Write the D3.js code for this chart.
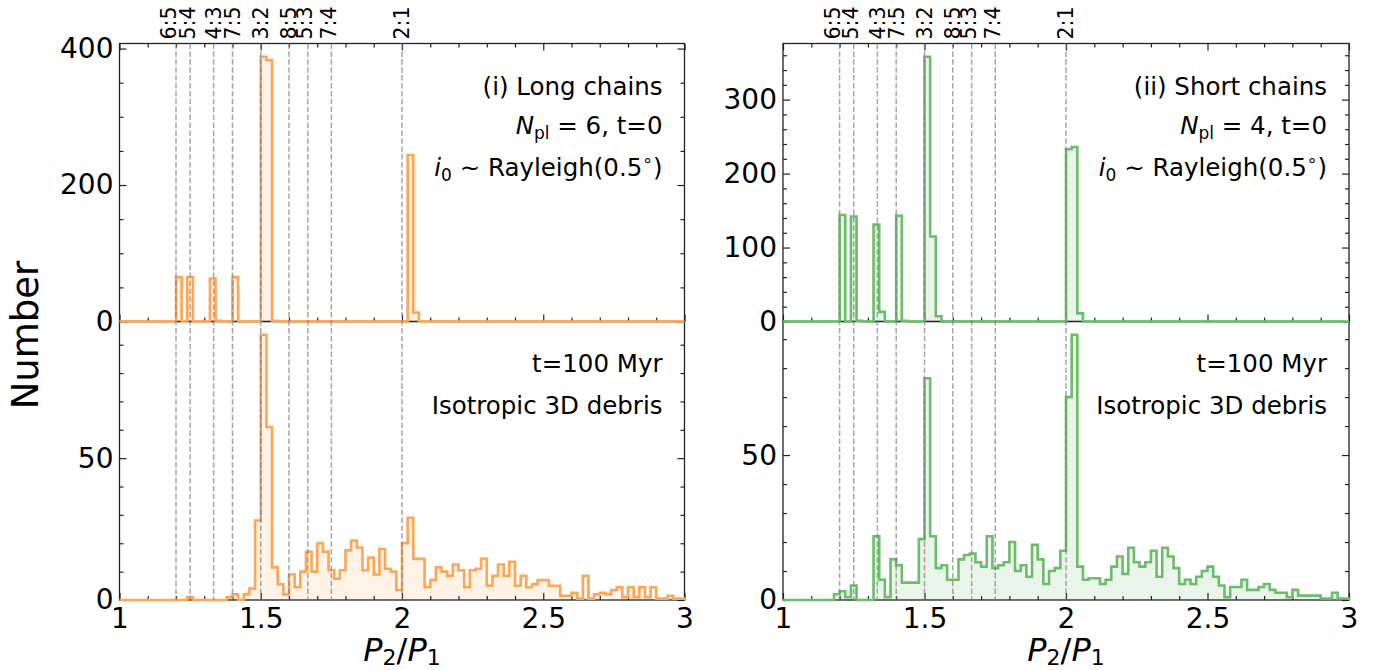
<!DOCTYPE html>
<html>
<head>
<meta charset="utf-8">
<script src="https://cdn.jsdelivr.net/npm/d3@7"></script>
<style>
  body { margin: 0; background: #fff; }
  svg text { font-family: "DejaVu Sans", sans-serif; fill: #000; }
</style>
</head>
<body>
<div id="chart"></div>
<script>
// period ratio histograms, bins of 0.02 between P2/P1 = 1 and 3

// bin edges
const binLo = 1, binHi = 3, nBins = 100;
const edges = d3.range(nBins + 1).map(i => binLo + i * (binHi - binLo) / nBins);

// (i) long chains, t = 0
const longT0 = [
  0, 0, 0, 0, 0, 0, 0, 0, 0, 0,
  65, 0, 65, 0, 0, 0, 63, 1, 0, 0,
  65, 0, 0, 0, 0, 388, 383, 1, 0, 0,
  0, 0, 0, 0, 0, 0, 0, 0, 0, 0,
  0, 0, 0, 0, 0, 0, 0, 0, 0, 0,
  0, 244, 13, 0, 0, 0, 0, 0, 0, 0,
  0, 0, 0, 0, 0, 0, 0, 0, 0, 0,
  0, 0, 0, 0, 0, 0, 0, 0, 0, 0,
  0, 0, 0, 0, 0, 0, 0, 0, 0, 0,
  0, 0, 0, 0, 0, 0, 0, 0, 0, 0
];

// (i) long chains, t = 100 Myr
const longT100 = [
  0, 0, 0, 0, 0, 0, 0, 0, 0, 0,
  0, 0, 1, 0, 0, 0, 0, 0, 0, 1,
  2, 0, 2, 4, 28, 93.5, 61, 11.5, 5.5, 2,
  9, 4.5, 10, 17, 10, 20, 17, 10.5, 7.5, 10.5,
  17.5, 21, 18.5, 10.5, 15, 9, 18, 11, 10, 3.5,
  20, 29, 14.5, 14.5, 4.5, 7, 11.5, 10, 8.5, 12.5,
  10.5, 4.5, 10.5, 11, 14.5, 5, 8.5, 12.5, 8.5, 13.5,
  5, 8.5, 4.5, 5.5, 7, 7, 5, 5, 1.5, 1.5,
  2.5, 0.5, 8.5, 0.5, 2, 2.5, 2, 3.5, 4.5, 1,
  4.5, 1, 4.5, 1, 4.5, 0.5, 0.5, 1.5, 0.5, 0.5
];

// (ii) short chains, t = 0
const shortT0 = [
  0, 0, 0, 0, 0, 0, 0, 0, 0, 0,
  144, 0, 142, 1, 0, 0, 131, 13, 0, 0,
  143, 1, 0, 0, 0, 358, 115, 7, 0, 0,
  0, 0, 0, 0, 0, 0, 0, 0, 0, 0,
  0, 0, 0, 0, 0, 0, 0, 0, 0, 0,
  233, 236, 11, 0, 0, 0, 0, 0, 0, 0,
  0, 0, 0, 0, 0, 0, 0, 0, 0, 0,
  0, 0, 0, 0, 0, 0, 0, 0, 0, 0,
  0, 0, 0, 0, 0, 0, 0, 0, 0, 0,
  0, 0, 0, 0, 0, 0, 0, 0, 0, 0
];

// (ii) short chains, t = 100 Myr
const shortT100 = [
  0, 0, 0, 0, 0, 0, 0, 0, 0, 2,
  3, 1, 5, 0, 0, 0, 22, 7, 1, 14,
  12, 6, 6, 6, 21, 76.5, 22, 11, 12, 7,
  7, 14, 15.5, 16, 13, 11.5, 22, 11, 12, 13,
  20, 10, 12, 8, 19, 14, 5.5, 10, 11, 17,
  70, 91.5, 11.5, 7, 7.5, 7.5, 5.5, 7, 11.5, 15,
  9, 18, 13, 11.5, 13, 17, 8, 18, 15, 11,
  5.5, 7, 5.5, 8, 10, 11.5, 8, 5, 1, 4.5,
  4.5, 7, 3.5, 3.5, 4.5, 5.5, 3.5, 2.5, 2.5, 1,
  3.5, 1.5, 1.5, 1.5, 1.5, 0.5, 0.5, 2.5, 0.5, 0.5
];

// mean motion resonances [p, q] -> p:q
const resonances = [[6, 5], [5, 4], [4, 3], [7, 5], [3, 2], [8, 5], [5, 3], [7, 4], [2, 1]];

// ticks
const xMajorTicks = [1, 1.5, 2, 2.5, 3];
const xTickLabels = ["1", "1.5", "2", "2.5", "3"];

// ---- layout and style ----
const W = 1380, H = 670;
const rowTop = {y0: 43.5, y1: 321.5};
const rowBottom = {y0: 321.5, y1: 600};
const axisColor = "#222";
const tickFont = 28, noteFont = 24.5;

const columns = [
  {x0: 119.5, x1: 684.5, line: "#ffa656", fill: "#fff2e6",
   top: longT0, bottom: longT100, title: "(i) Long chains", npl: "6",
   yMajor: 200, yMinor: 50},
  {x0: 783, x1: 1349, line: "#6bbc6b", fill: "#eaf5ea",
   top: shortT0, bottom: shortT100, title: "(ii) Short chains", npl: "4",
   yMajor: 100, yMinor: 20}
];

// small nudges so crowded labels do not overlap
const labelNudge = {"6:5": -7, "5:4": -3, "5:3": -3, "7:4": -3};

const svg = d3.select("#chart")
  .append("svg")
  .attr("width", W)
  .attr("height", H)
  .style("background", "#fff");

// drawing layers (fills, axes, outlines, resonance lines, texts)
const layerFill = svg.append("g");
const layerAxes = svg.append("g");
const layerLines = svg.append("g");
const layerDash = svg.append("g");
const layerText = svg.append("g");

function styleAxis(g) {
  g.select(".domain").remove();
  g.selectAll(".tick line").attr("stroke", axisColor).attr("stroke-width", 1.2);
  g.selectAll(".tick text")
    .attr("font-size", tickFont)
    .attr("font-family", "DejaVu Sans, sans-serif")
    .attr("fill", "#000");
}

columns.forEach(col => {

  const x = d3.scaleLinear().domain([binLo, binHi]).range([col.x0, col.x1]);
  const xMinor = d3.range(11, 30).map(d => d / 10).filter(d => !xMajorTicks.includes(d));

  [[rowTop, col.top, true], [rowBottom, col.bottom, false]].forEach(([row, counts, isTop]) => {

    const yMax = d3.max(counts) * 1.05; // matplotlib-like margin
    const y = d3.scaleLinear().domain([0, yMax]).range([row.y1, row.y0]);

    const majorStep = isTop ? col.yMajor : 50;
    const minorStep = isTop ? col.yMinor : 10;
    const yMajor = d3.range(0, yMax, majorStep);
    const yMinor = d3.range(0, yMax, minorStep).filter(d => d % majorStep !== 0);

    // step outline points of the histogram
    const pts = [[edges[0], 0]];
    counts.forEach((c, i) => { pts.push([edges[i], c], [edges[i + 1], c]); });
    pts.push([edges[nBins], 0]);
    const stepLine = d3.line().x(d => x(d[0])).y(d => y(d[1]));

    // filled area
    layerFill.append("path")
      .attr("d", stepLine(pts))
      .attr("fill", col.fill)
      .attr("stroke", "none");

    const g = layerAxes.append("g");

    // x ticks, bottom edge (pointing in)
    g.append("g")
      .attr("transform", `translate(0,${row.y1})`)
      .call(d3.axisBottom(x).tickValues(xMajorTicks).tickSize(-7).tickPadding(8)
        .tickFormat((d, i) => isTop ? "" : xTickLabels[i]))
      .call(styleAxis);
    g.append("g")
      .attr("transform", `translate(0,${row.y1})`)
      .call(d3.axisBottom(x).tickValues(xMinor).tickSize(-4).tickFormat(""))
      .call(styleAxis);

    // x ticks, top edge (top panel only)
    if (isTop) {
      g.append("g")
        .attr("transform", `translate(0,${row.y0})`)
        .call(d3.axisTop(x).tickValues(xMajorTicks).tickSize(-7).tickFormat(""))
        .call(styleAxis);
      g.append("g")
        .attr("transform", `translate(0,${row.y0})`)
        .call(d3.axisTop(x).tickValues(xMinor).tickSize(-4).tickFormat(""))
        .call(styleAxis);
    }

    // y ticks, left with labels, right without
    g.append("g")
      .attr("transform", `translate(${col.x0},0)`)
      .call(d3.axisLeft(y).tickValues(yMajor).tickSize(-7).tickPadding(6).tickFormat(d3.format("d")))
      .call(styleAxis);
    g.append("g")
      .attr("transform", `translate(${col.x0},0)`)
      .call(d3.axisLeft(y).tickValues(yMinor).tickSize(-4).tickFormat(""))
      .call(styleAxis);
    g.append("g")
      .attr("transform", `translate(${col.x1},0)`)
      .call(d3.axisRight(y).tickValues(yMajor).tickSize(-7).tickFormat(""))
      .call(styleAxis);
    g.append("g")
      .attr("transform", `translate(${col.x1},0)`)
      .call(d3.axisRight(y).tickValues(yMinor).tickSize(-4).tickFormat(""))
      .call(styleAxis);

    // frame
    g.append("rect")
      .attr("x", col.x0)
      .attr("y", row.y0)
      .attr("width", col.x1 - col.x0)
      .attr("height", row.y1 - row.y0)
      .attr("fill", "none")
      .attr("stroke", axisColor)
      .attr("stroke-width", 1.3);

    // histogram outline above the frame
    layerLines.append("path")
      .attr("d", stepLine(pts))
      .attr("fill", "none")
      .attr("stroke", col.line)
      .attr("stroke-width", 2.6)
      .attr("stroke-linejoin", "miter");
  });

  // resonance lines through both panels
  layerDash.append("g")
    .selectAll("line")
    .data(resonances)
    .join("line")
      .attr("x1", d => x(d[0] / d[1]))
      .attr("x2", d => x(d[0] / d[1]))
      .attr("y1", rowTop.y0)
      .attr("y2", rowBottom.y1)
      .attr("stroke", "#808080")
      .attr("stroke-opacity", 0.7)
      .attr("stroke-width", 1.5)
      .attr("stroke-dasharray", "5.5,2.4");

  // resonance labels above the top panel
  layerText.append("g")
    .selectAll("text")
    .data(resonances)
    .join("text")
      .attr("transform", d => {
        const lab = `${d[0]}:${d[1]}`;
        return `translate(${x(d[0] / d[1]) + (labelNudge[lab] || 0)},${rowTop.y0 - 4}) rotate(-90)`;
      })
      .attr("dy", "0.36em")
      .attr("font-size", 20.5)
      .text(d => `${d[0]}:${d[1]}`);

  // notes, top panel
  const xr = col.x1 - 22;
  layerText.append("text")
    .attr("x", xr).attr("y", rowTop.y0 + 51)
    .attr("text-anchor", "end").attr("font-size", noteFont)
    .text(col.title);

  const t2 = layerText.append("text")
    .attr("x", xr).attr("y", rowTop.y0 + 90)
    .attr("text-anchor", "end").attr("font-size", noteFont);
  t2.append("tspan").attr("font-style", "italic").text("N");
  t2.append("tspan").attr("font-size", 17).attr("dy", 5).text("pl");
  t2.append("tspan").attr("dy", -5).text(` = ${col.npl}, t=0`);

  const t3 = layerText.append("text")
    .attr("x", xr).attr("y", rowTop.y0 + 132)
    .attr("text-anchor", "end").attr("font-size", noteFont);
  t3.append("tspan").attr("font-style", "italic").text("i");
  t3.append("tspan").attr("font-size", 17).attr("dy", 5).text("0");
  t3.append("tspan").attr("dy", -5).text(" \u223C Rayleigh(0.5");
  t3.append("tspan").attr("font-size", 17).attr("dy", -10).text("\u2218");
  t3.append("tspan").attr("dy", 10).text(")");

  // notes, bottom panel
  layerText.append("text")
    .attr("x", xr).attr("y", rowBottom.y0 + 50)
    .attr("text-anchor", "end").attr("font-size", noteFont)
    .text("t=100 Myr");
  layerText.append("text")
    .attr("x", xr).attr("y", rowBottom.y0 + 92)
    .attr("text-anchor", "end").attr("font-size", noteFont)
    .text("Isotropic 3D debris");

  // x axis title
  const xt = layerText.append("text")
    .attr("x", (col.x0 + col.x1) / 2).attr("y", 661)
    .attr("text-anchor", "middle").attr("font-size", 32);
  xt.append("tspan").attr("font-style", "italic").text("P");
  xt.append("tspan").attr("font-size", 22).attr("dy", 4).text("2");
  xt.append("tspan").attr("dy", -4).text("/");
  xt.append("tspan").attr("font-style", "italic").text("P");
  xt.append("tspan").attr("font-size", 22).attr("dy", 4).text("1");
});

// shared y axis title
layerText.append("text")
  .attr("transform", `translate(38,335) rotate(-90)`)
  .attr("text-anchor", "middle")
  .attr("font-size", 37)
  .text("Number");
</script>
</body>
</html>
